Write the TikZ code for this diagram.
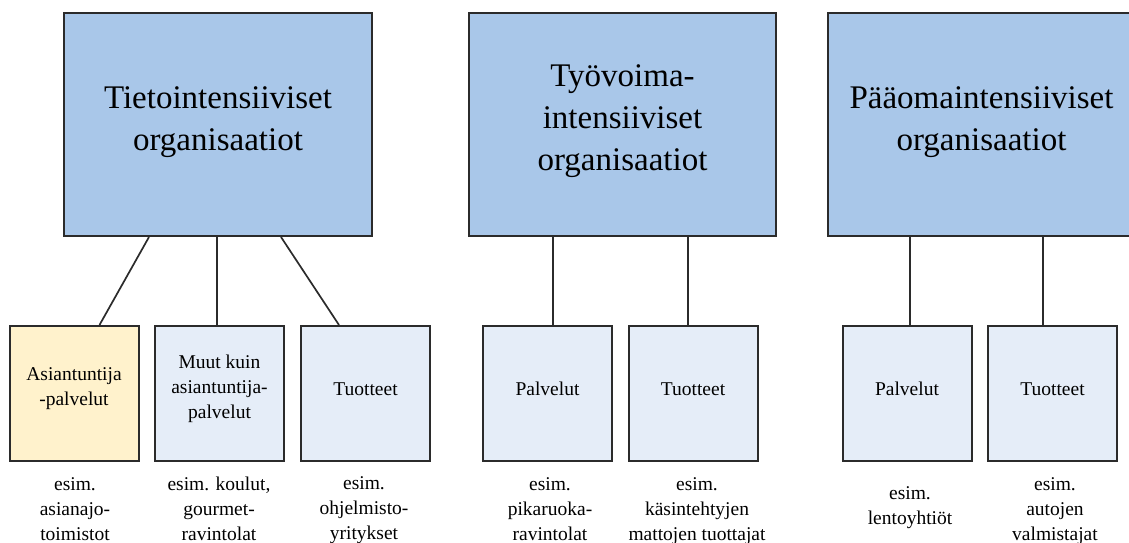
\documentclass[tikz,border=0pt]{standalone}
\usepackage{fontspec}
\setmainfont{Liberation Serif}
\definecolor{bigblue}{HTML}{A9C7E9}
\definecolor{smallblue}{HTML}{E5EDF8}
\definecolor{lightyellow}{HTML}{FFF2CC}
\definecolor{edge}{HTML}{2B2B2B}
\tikzset{
  bigbox/.style={draw=edge, line width=2pt, fill=bigblue, minimum height=223pt, inner sep=0pt},
  bigtext/.style={align=center, inner sep=0pt, font=\fontsize{33}{42}\selectfont},
  smallbox/.style={draw=edge, line width=2pt, fill=smallblue, minimum width=129pt, minimum height=135pt, inner sep=0pt},
  smalltext/.style={align=center, inner sep=0pt, font=\fontsize{19.5}{25}\selectfont, yshift=4.5pt},
  caption/.style={align=center, inner sep=0pt, font=\fontsize{19.5}{25}\selectfont},
  link/.style={draw=edge, line width=1.7pt}
}
\begin{document}
\begin{tikzpicture}[x=1pt,y=-1pt]
\useasboundingbox (0,0) rectangle (1129,543);
% big boxes
\node[bigbox, minimum width=308pt, label={[bigtext,yshift=2pt]center:Tietointensiiviset\\organisaatiot}] (b1) at (218,124.5) {};
\node[bigbox, minimum width=307pt, label={[bigtext,yshift=3pt]center:Työvoima-\\intensiiviset\\organisaatiot}] (b2) at (622.5,124.5) {};
\node[bigbox, minimum width=304pt, label={[bigtext,yshift=2pt,xshift=1.5pt]center:Pääomaintensiiviset\\organisaatiot}] (b3) at (980,124.5) {};
% small boxes
\node[smallbox, fill=lightyellow, label={[smalltext]center:Asiantuntija\\-palvelut}] (sA) at (74,393.5) {};
\node[smallbox, label={[smalltext]center:Muut kuin\\asiantuntija-\\palvelut}] (sB) at (219.5,393.5) {};
\node[smallbox, label={[smalltext]center:Tuotteet}] (sC) at (365.5,393.5) {};
\node[smallbox, label={[smalltext]center:Palvelut}] (sD) at (547.5,393.5) {};
\node[smallbox, label={[smalltext]center:Tuotteet}] (sE) at (693,393.5) {};
\node[smallbox, label={[smalltext]center:Palvelut}] (sF) at (907,393.5) {};
\node[smallbox, label={[smalltext]center:Tuotteet}] (sG) at (1052.5,393.5) {};
% captions
\node[caption] (cA) at (75,509) {esim.\\asianajo-\\toimistot};
\node[caption] (cB) at (219,509) {esim. koulut,\\gourmet-\\ravintolat};
\node[caption] (cC) at (364,510) {esim.\\ohjelmisto-\\yritykset};
\node[caption] (cD) at (550,509) {esim.\\pikaruoka-\\ravintolat};
\node[caption] (cE) at (697,511.5) {esim.\\käsintehtyjen\\mattojen tuottajat};
\node[caption] (cF) at (910,507.5) {esim.\\lentoyhtiöt};
\node[caption] (cG) at (1055,511) {esim.\\autojen\\valmistajat};
% connectors
\draw[link] ([xshift=86pt]b1.south west) -- ([xshift=91pt]sA.north west);
\coordinate (kB) at ([xshift=-2.5pt]sB.north);
\draw[link] (kB) -- (kB |- b1.south);
\draw[link] ([xshift=218pt]b1.south west) -- ([xshift=39pt]sC.north west);
\coordinate (kD) at ([xshift=71pt]sD.north west);
\draw[link] (kD) -- (kD |- b2.south);
\coordinate (kE) at ([xshift=60.5pt]sE.north west);
\draw[link] (kE) -- (kE |- b2.south);
\coordinate (kF) at ([xshift=68.5pt]sF.north west);
\draw[link] (kF) -- (kF |- b3.south);
\coordinate (kG) at ([xshift=56pt]sG.north west);
\draw[link] (kG) -- (kG |- b3.south);
\end{tikzpicture}
\end{document}
